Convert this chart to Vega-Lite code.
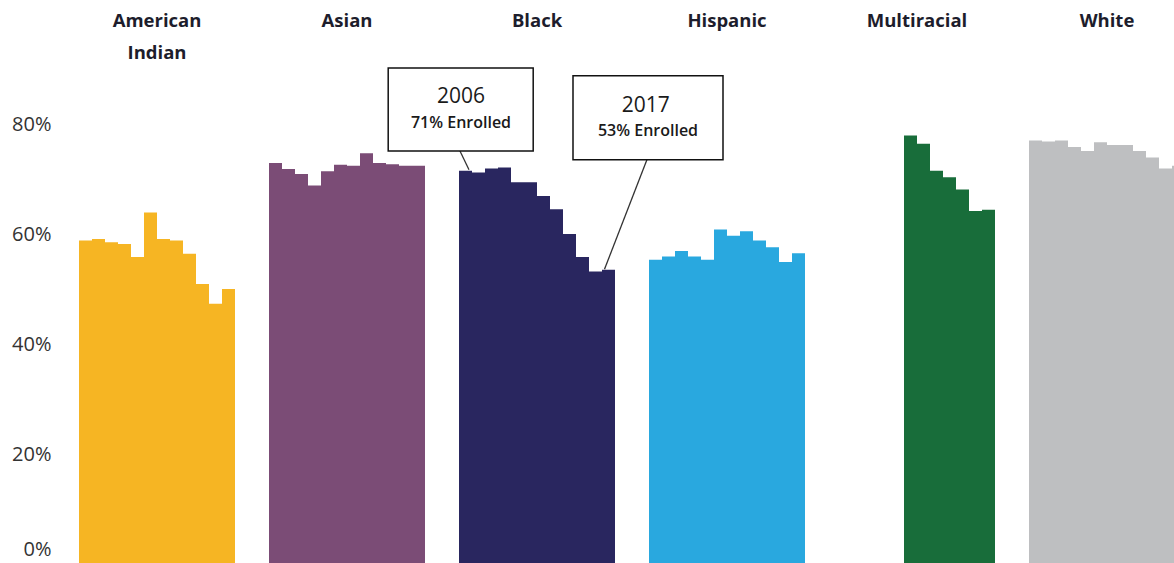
{
  "$schema": "https://vega.github.io/schema/vega-lite/v6.json",
  "background": "white",
  "padding": {"left": 11, "top": 11, "right": 0, "bottom": 0},
  "data": {
    "values": [
      {"race": "American Indian", "year": 2006, "pct": 58.8},
      {"race": "American Indian", "year": 2007, "pct": 59.1},
      {"race": "American Indian", "year": 2008, "pct": 58.5},
      {"race": "American Indian", "year": 2009, "pct": 58.2},
      {"race": "American Indian", "year": 2010, "pct": 55.8},
      {"race": "American Indian", "year": 2011, "pct": 63.9},
      {"race": "American Indian", "year": 2012, "pct": 59.1},
      {"race": "American Indian", "year": 2013, "pct": 58.8},
      {"race": "American Indian", "year": 2014, "pct": 56.4},
      {"race": "American Indian", "year": 2015, "pct": 50.9},
      {"race": "American Indian", "year": 2016, "pct": 47.3},
      {"race": "American Indian", "year": 2017, "pct": 50.0},
      {"race": "Asian", "year": 2006, "pct": 72.9},
      {"race": "Asian", "year": 2007, "pct": 71.8},
      {"race": "Asian", "year": 2008, "pct": 70.9},
      {"race": "Asian", "year": 2009, "pct": 68.8},
      {"race": "Asian", "year": 2010, "pct": 71.4},
      {"race": "Asian", "year": 2011, "pct": 72.6},
      {"race": "Asian", "year": 2012, "pct": 72.4},
      {"race": "Asian", "year": 2013, "pct": 74.7},
      {"race": "Asian", "year": 2014, "pct": 72.9},
      {"race": "Asian", "year": 2015, "pct": 72.7},
      {"race": "Asian", "year": 2016, "pct": 72.4},
      {"race": "Asian", "year": 2017, "pct": 72.4},
      {"race": "Black", "year": 2006, "pct": 71.5, "note": "71% Enrolled"},
      {"race": "Black", "year": 2007, "pct": 71.2},
      {"race": "Black", "year": 2008, "pct": 71.9},
      {"race": "Black", "year": 2009, "pct": 72.1},
      {"race": "Black", "year": 2010, "pct": 69.4},
      {"race": "Black", "year": 2011, "pct": 69.4},
      {"race": "Black", "year": 2012, "pct": 66.9},
      {"race": "Black", "year": 2013, "pct": 64.5},
      {"race": "Black", "year": 2014, "pct": 60.0},
      {"race": "Black", "year": 2015, "pct": 55.8},
      {"race": "Black", "year": 2016, "pct": 53.2},
      {"race": "Black", "year": 2017, "pct": 53.5, "note": "53% Enrolled"},
      {"race": "Hispanic", "year": 2006, "pct": 55.3},
      {"race": "Hispanic", "year": 2007, "pct": 55.9},
      {"race": "Hispanic", "year": 2008, "pct": 56.9},
      {"race": "Hispanic", "year": 2009, "pct": 55.9},
      {"race": "Hispanic", "year": 2010, "pct": 55.3},
      {"race": "Hispanic", "year": 2011, "pct": 60.8},
      {"race": "Hispanic", "year": 2012, "pct": 59.7},
      {"race": "Hispanic", "year": 2013, "pct": 60.5},
      {"race": "Hispanic", "year": 2014, "pct": 58.8},
      {"race": "Hispanic", "year": 2015, "pct": 57.6},
      {"race": "Hispanic", "year": 2016, "pct": 54.9},
      {"race": "Hispanic", "year": 2017, "pct": 56.5},
      {"race": "Multiracial", "year": 2011, "pct": 77.9},
      {"race": "Multiracial", "year": 2012, "pct": 76.4},
      {"race": "Multiracial", "year": 2013, "pct": 71.5},
      {"race": "Multiracial", "year": 2014, "pct": 70.3},
      {"race": "Multiracial", "year": 2015, "pct": 68.1},
      {"race": "Multiracial", "year": 2016, "pct": 64.2},
      {"race": "Multiracial", "year": 2017, "pct": 64.4},
      {"race": "White", "year": 2006, "pct": 77.0},
      {"race": "White", "year": 2007, "pct": 76.8},
      {"race": "White", "year": 2008, "pct": 77.0},
      {"race": "White", "year": 2009, "pct": 75.8},
      {"race": "White", "year": 2010, "pct": 75.1},
      {"race": "White", "year": 2011, "pct": 76.7},
      {"race": "White", "year": 2012, "pct": 76.2},
      {"race": "White", "year": 2013, "pct": 76.2},
      {"race": "White", "year": 2014, "pct": 75.1},
      {"race": "White", "year": 2015, "pct": 73.9},
      {"race": "White", "year": 2016, "pct": 71.9},
      {"race": "White", "year": 2017, "pct": 72.4}
    ]
  },
  "bounds": "flush",
  "facet": {
    "column": {
      "field": "race",
      "type": "nominal",
      "title": null,
      "header": {
        "labelOrient": "top",
        "labelAnchor": "middle",
        "labelFont": "Open Sans",
        "labelFontSize": 18.5,
        "labelFontWeight": "bold",
        "labelColor": "#1d1d2c",
        "labelLineHeight": 32,
        "labelPadding": 7,
        "labelExpr": "datum.value == 'American Indian' ? ['American', 'Indian'] : [datum.value, '']"
      }
    }
  },
  "spacing": 34,
  "spec": {
    "width": 156,
    "height": 495,
    "layer": [
      {
        "mark": {"type": "bar"},
        "encoding": {
          "x": {"field": "year", "type": "ordinal", "axis": null, "scale": {"paddingInner": 0, "paddingOuter": 0}},
          "y": {
            "field": "pct",
            "type": "quantitative",
            "scale": {"domain": [0, 90], "nice": false},
            "axis": {
              "title": null,
              "values": [0, 20, 40, 60, 80],
              "labelExpr": "datum.value + '%'",
              "grid": false,
              "domain": false,
              "ticks": false,
              "labelPadding": 28,
              "labelFont": "Open Sans",
              "labelFontSize": 20,
              "labelColor": "#333333",
              "labelFlush": true,
              "labelFlushOffset": -5
            }
          },
          "color": {
            "field": "race",
            "type": "nominal",
            "legend": null,
            "scale": {
              "domain": ["American Indian", "Asian", "Black", "Hispanic", "Multiracial", "White"],
              "range": ["#F6B523", "#7B4C76", "#29265F", "#29A8DF", "#186D3A", "#BEBFC1"]
            }
          }
        }
      },
      {
        "transform": [{"filter": "datum.note != null && datum.year == 2006"}],
        "mark": {"type": "point", "shape": "M0.35,-0.1 L-0.65,-2.175", "size": 400, "filled": false, "color": "#333333", "strokeWidth": 1.3, "opacity": 1},
        "encoding": {
          "x": {"field": "year", "type": "ordinal"},
          "y": {"field": "pct", "type": "quantitative"}
        }
      },
      {
        "transform": [{"filter": "datum.note != null && datum.year == 2017"}],
        "mark": {"type": "point", "shape": "M-0.4,-0.05 L3.9,-11.15", "size": 400, "filled": false, "color": "#333333", "strokeWidth": 1.3, "opacity": 1},
        "encoding": {
          "x": {"field": "year", "type": "ordinal"},
          "y": {"field": "pct", "type": "quantitative"}
        }
      },
      {
        "transform": [{"filter": "datum.note != null && datum.year == 2006"}],
        "mark": {"type": "point", "shape": "M-1,-0.572 L1,-0.572 L1,0.572 L-1,0.572 Z", "size": 21025, "filled": true, "fill": "white", "stroke": "#111111", "strokeWidth": 1.5, "opacity": 1, "xOffset": -4.8, "yOffset": -61.25},
        "encoding": {
          "x": {"field": "year", "type": "ordinal"},
          "y": {"field": "pct", "type": "quantitative"}
        }
      },
      {
        "transform": [{"filter": "datum.note != null && datum.year == 2017"}],
        "mark": {"type": "point", "shape": "M-1,-0.56 L1,-0.56 L1,0.56 L-1,0.56 Z", "size": 22500, "filled": true, "fill": "white", "stroke": "#111111", "strokeWidth": 1.5, "opacity": 1, "xOffset": 39.5, "yOffset": -152},
        "encoding": {
          "x": {"field": "year", "type": "ordinal"},
          "y": {"field": "pct", "type": "quantitative"}
        }
      },
      {
        "transform": [{"filter": "datum.note != null && datum.year == 2006"}],
        "mark": {"type": "text", "font": "Open Sans", "fontSize": 21, "color": "#1a1a1a", "dx": -4.5, "dy": -73.75, "baseline": "middle", "align": "center"},
        "encoding": {
          "x": {"field": "year", "type": "ordinal"},
          "y": {"field": "pct", "type": "quantitative"},
          "text": {"field": "year", "type": "ordinal"}
        }
      },
      {
        "transform": [{"filter": "datum.note != null && datum.year == 2006"}],
        "mark": {"type": "text", "font": "Open Sans", "fontSize": 16, "fontWeight": 600, "color": "#1a1a1a", "dx": -4.5, "dy": -47.75, "baseline": "middle", "align": "center"},
        "encoding": {
          "x": {"field": "year", "type": "ordinal"},
          "y": {"field": "pct", "type": "quantitative"},
          "text": {"field": "note", "type": "nominal"}
        }
      },
      {
        "transform": [{"filter": "datum.note != null && datum.year == 2017"}],
        "mark": {"type": "text", "font": "Open Sans", "fontSize": 21, "color": "#1a1a1a", "dx": 37.2, "dy": -164, "baseline": "middle", "align": "center"},
        "encoding": {
          "x": {"field": "year", "type": "ordinal"},
          "y": {"field": "pct", "type": "quantitative"},
          "text": {"field": "year", "type": "ordinal"}
        }
      },
      {
        "transform": [{"filter": "datum.note != null && datum.year == 2017"}],
        "mark": {"type": "text", "font": "Open Sans", "fontSize": 16, "fontWeight": 600, "color": "#1a1a1a", "dx": 39.5, "dy": -139, "baseline": "middle", "align": "center"},
        "encoding": {
          "x": {"field": "year", "type": "ordinal"},
          "y": {"field": "pct", "type": "quantitative"},
          "text": {"field": "note", "type": "nominal"}
        }
      }
    ]
  },
  "config": {
    "view": {"stroke": null},
    "font": "Open Sans"
  }
}
